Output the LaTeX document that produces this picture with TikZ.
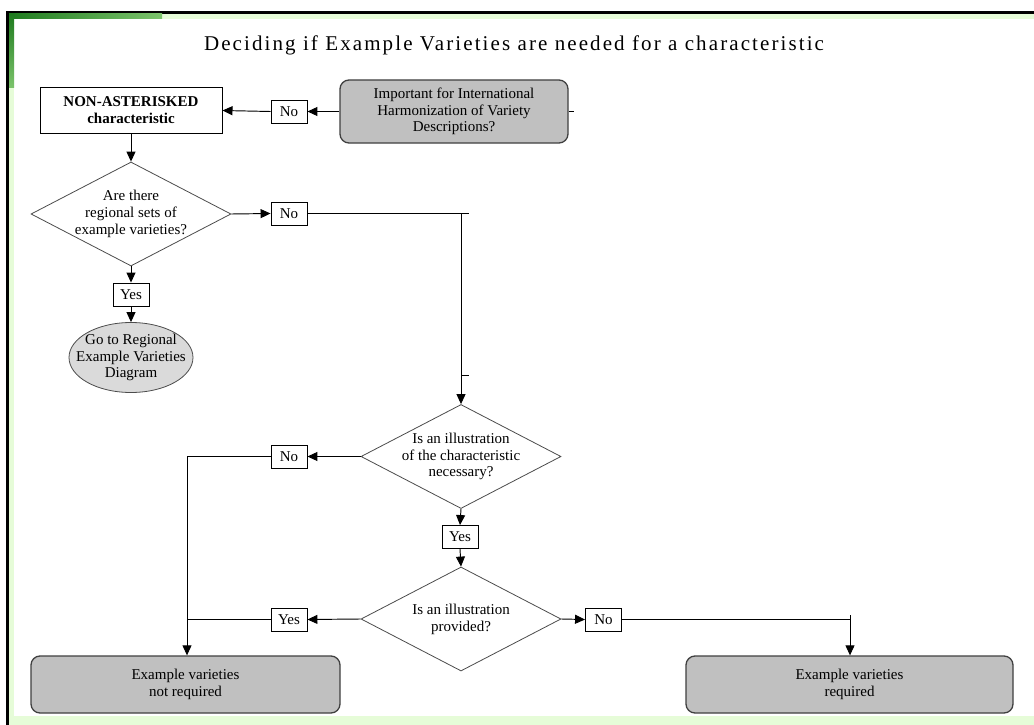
\documentclass[tikz,border=0pt]{standalone}
\usepackage{fontspec}
\setmainfont{Liberation Serif}
\newfontfamily\titlefont[LetterSpace=10]{Liberation Serif}
\usetikzlibrary{shapes.geometric,arrows.meta}
\definecolor{boxgray}{HTML}{C0C0C0}
\definecolor{ellgray}{HTML}{DADADA}
\definecolor{bandgreen}{HTML}{E6FCD8}
\definecolor{darkgreen}{HTML}{1E7A1E}
\definecolor{midgreen}{HTML}{7CC46C}
\begin{document}
\begin{tikzpicture}[x=1pt,y=-1pt,
  font=\fontsize{15}{16.8}\selectfont,
  line/.style={draw=black,line width=0.95pt},
  arr/.style={line,-{Triangle[length=10pt,width=9pt]}},
  lbl/.style={draw=black,line width=0.9pt,fill=white,minimum width=36pt,minimum height=23pt,inner sep=0pt},
  sqbox/.style={draw=black,line width=1pt,fill=white,inner sep=0pt,align=center},
  endbox/.style={draw=black!75,line width=1.3pt,fill=boxgray,rounded corners=9pt,inner sep=0pt,align=center},
  decision/.style={diamond,draw=black!70,line width=0.8pt,fill=white,minimum width=200pt,minimum height=104pt,inner sep=0pt},
  dtext/.style={align=center},
  ]
% background and frame
\useasboundingbox (0,0) rectangle (1034,725);
\fill[white] (0,0) rectangle (1034,725);
\fill[bandgreen] (9,14) rectangle (1034,725);
\fill[white] (14,19) rectangle (1034,716);
\fill[black] (6,11) rectangle (1034,14);
\fill[black] (6,11) rectangle (9,725);
\shade[left color=darkgreen,right color=midgreen] (9,14) rectangle (162,19);
\shade[top color=darkgreen,bottom color=midgreen] (9,14) rectangle (14,88);

% title
\node (title) at (514,45) {\titlefont\fontsize{21}{24}\selectfont Deciding if Example Varieties are needed for a characteristic};

% nodes
\node[sqbox,minimum width=182pt,minimum height=45pt,font=\fontsize{15}{16.8}\selectfont\bfseries] (na) at (131,110.5) {NON-ASTERISKED\\characteristic};
\node[lbl] (no1) at (289,111.5) {No};
\node[endbox,minimum width=228pt,minimum height=63pt] (imp) at (454,111.5) {Important for International\\Harmonization of Variety\\Descriptions?};
\coordinate (impstub) at (574,111.5);

\node[decision] (d1) at (131,214) {};
\node[dtext] (d1t) at (d1.center) {Are there\\regional sets of\\example varieties?};
\node[lbl] (no2) at (289,213.5) {No};
\coordinate (c1) at (461,213.5);
\coordinate (c1stub) at (469,213.5);
\coordinate (c2) at (461,375);
\coordinate (c2stub) at (469,375);

\node[lbl] (yes1) at (131,294.5) {Yes};
\node[ellipse,draw=black!70,line width=0.8pt,fill=ellgray,minimum width=124pt,minimum height=70pt,inner sep=0pt] (goto) at (131,357.5) {};
\node[dtext] (gotot) at (goto.center) {Go to Regional\\Example Varieties\\Diagram};

\node[decision] (d2) at (461,456.5) {};
\node[dtext] (d2t) at (d2.center) {Is an illustration\\of the characteristic\\necessary?};
\node[lbl] (no3) at (289,456.5) {No};
\coordinate (c3) at (187,456.5);

\node[lbl] (yes2) at (460,537) {Yes};
\node[decision] (d3) at (461,619) {};
\node[dtext] (d3t) at (d3.center) {Is an illustration\\provided?};
\node[lbl] (yes3) at (289,619.5) {Yes};
\coordinate (c4) at (187,619.5);
\node[lbl] (no4) at (603.5,619.5) {No};
\coordinate (c5) at (850,619.5);
\coordinate (c5stub) at (850,615);

\node[endbox,minimum width=309pt,minimum height=57pt] (notreq) at (185.5,684.5) {Example varieties\\not required};
\node[endbox,minimum width=327pt,minimum height=57pt] (req) at (849.5,684.5) {Example varieties\\required};

% connectors
\draw[arr] (imp.west) -- (no1.east);
\draw[line] (imp.east) -- (impstub);
\draw[arr] (no1.west) -- (na.east);
\draw[arr] (na.south) -- (d1.north);
\draw[arr] (d1.east) -- (no2.west);
\draw[line] (no2.east) -- (c1stub);
\draw[arr] (c1) -- (d2.north);
\draw[line] (c2) -- (c2stub);
\draw[arr] (d1.south) -- (yes1.north);
\draw[arr] (yes1.south) -- (goto.north);
\draw[arr] (d2.west) -- (no3.east);
\draw[arr] (no3.west) -- (c3) -- (c3 |- notreq.north);
\draw[arr] (d2.south) -- (yes2.north);
\draw[arr] (yes2.south) -- (d3.north);
\draw[arr] (d3.west) -- (yes3.east);
\draw[line] (yes3.west) -- (c4);
\draw[arr] (d3.east) -- (no4.west);
\draw[arr] (no4.east) -- (c5) -- (c5 |- req.north);
\draw[line] (c5) -- (c5stub);
\end{tikzpicture}
\end{document}
